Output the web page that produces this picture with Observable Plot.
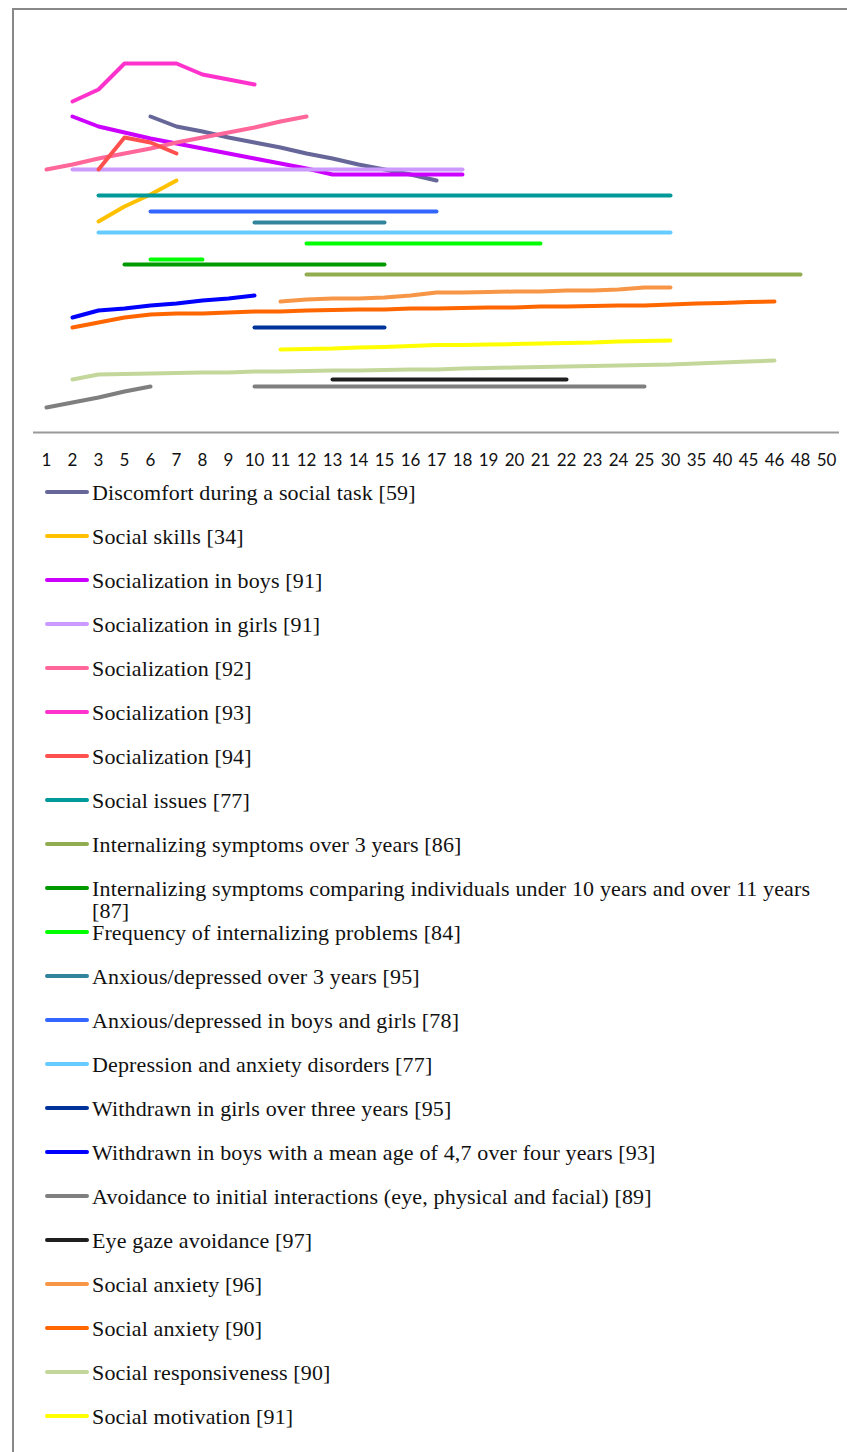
<!DOCTYPE html>
<html>
<head>
<meta charset="utf-8">
<script src="https://cdn.jsdelivr.net/npm/d3@7"></script>
<script src="https://cdn.jsdelivr.net/npm/@observablehq/plot@0.6"></script>
<style>
  html, body { margin: 0; padding: 0; background: #fff; }
  body { width: 847px; height: 1452px; overflow: hidden; position: relative; }
  #frame { position: absolute; left: 12px; top: 8px; width: 900px; height: 1500px;
           border-left: 2px solid #888; border-top: 2px solid #888; box-sizing: border-box; }
  #chart { position: absolute; left: 0; top: 0; }
  .item { position: absolute; left: 45px; height: 0; }
  .sw { position: absolute; left: 0; top: -2px; width: 44px; height: 4px; border-radius: 2px; }
  .lab { position: absolute; left: 47px; top: -10px; font-family: "Liberation Serif", serif;
         font-size: 22px; line-height: 22px; letter-spacing: 0.15px; color: #111;
         white-space: normal; width: 725px; }
</style>
</head>
<body>
<div id="frame"></div>
<div id="chart"></div>
<div id="legend"></div>
<script>
// x categories (age in years)
const categories = ["1","2","3","5","6","7","8","9","10","11","12","13","14","15","16","17","18","19","20","21","22","23","24","25","30","35","40","45","46","48","50"];

const seriesNames = [
  "Discomfort during a social task [59]",
  "Social skills [34]",
  "Socialization in boys [91]",
  "Socialization in girls [91]",
  "Socialization [92]",
  "Socialization [93]",
  "Socialization [94]",
  "Social issues [77]",
  "Internalizing symptoms over 3 years [86]",
  "Internalizing symptoms comparing individuals under 10 years and over 11 years [87]",
  "Frequency of internalizing problems [84]",
  "Anxious/depressed over 3 years [95]",
  "Anxious/depressed in boys and girls [78]",
  "Depression and anxiety disorders [77]",
  "Withdrawn in girls over three years [95]",
  "Withdrawn in boys with a mean age of 4,7 over four years [93]",
  "Avoidance to initial interactions (eye, physical and facial) [89]",
  "Eye gaze avoidance [97]",
  "Social anxiety [96]",
  "Social anxiety [90]",
  "Social responsiveness [90]",
  "Social motivation [91]"
];

const seriesColors = ["#666699","#FFC000","#CC00FF","#CC99FF","#FF6699","#FF33CC","#FF5050","#009999",
  "#92AD50","#009900","#00FF00","#31849B","#3366FF","#66CCFF","#003399","#0000FF",
  "#7F7F7F","#1F1F1F","#F79646","#FF6600","#C4D79B","#FFFF00"];

// values as [category, value]; null = gap
const discomfort = [[6,79],[7,76.5],[8,75.25],[9,73.75],[10,72.5],[11,71.25],[12,69.75],[13,68.5],[14,67],[15,65.75],[16,64.5],[17,63]];
const socialSkills = [[3,52.75],[5,56.5],[6,59.5],[7,63]];
const socializationBoys = [[2,79],[3,76.5],[5,75],[6,73.5],[7,72.25],[8,71],[9,69.75],[10,68.5],[11,67.25],[12,66],[13,64.5],[14,64.5],[15,64.5],[16,64.5],[17,64.5],[18,64.5]];
const socializationGirls = [[2,65.75],[3,65.75],[5,65.75],[6,65.75],[7,65.75],[8,65.75],[9,65.75],[10,65.75],[11,65.75],[12,65.75],[13,65.75],[14,65.75],[15,65.75],[16,65.75],[17,65.75],[18,65.75]];
const socialization92 = [[1,65.75],[2,67],[3,68.5],[5,69.75],[6,71],[7,72.5],[8,73.75],[9,75],[10,76.25],[11,77.75],[12,79]];
const socialization93 = [[2,82.75],[3,85.75],[5,92.25],[6,92.25],[7,92.25],[8,89.5],[9,88.25],[10,87]];
const socialization94 = [[3,65.75],[5,73.75],[6,72.5],[7,69.75]];
const socialIssues = [[3,59.25],[30,59.25]];
const internalizing3y = [[12,39.5],[48,39.5]];
const internalizingCompare = [[5,42],[15,42]];
const internalizingFreq = [[6,43.25],[7,43.25],[8,43.25],[9,null],[12,47.25],[21,47.25]];
const anxDep3y = [[10,52.5],[15,52.5]];
const anxDepBoysGirls = [[6,55.25],[17,55.25]];
const depAnxDisorders = [[3,50],[30,50]];
const withdrawnGirls = [[10,26.25],[15,26.25]];
const withdrawnBoys = [[2,28.75],[3,30.5],[5,31],[6,31.75],[7,32.25],[8,33],[9,33.5],[10,34.25]];
const avoidance = [[1,6.25],[2,7.5],[3,8.75],[5,10.25],[6,11.5],[7,null],[10,11.5],[25,11.5]];
const eyeGaze = [[13,13.25],[22,13.25]];
const socialAnxiety96 = [[11,32.75],[12,33.25],[13,33.5],[14,33.5],[15,33.75],[16,34.25],[17,35],[18,35],[19,35.1],[20,35.25],[21,35.25],[22,35.5],[23,35.5],[24,35.75],[25,36.25],[30,36.25]];
const socialAnxiety90 = [[2,26.25],[3,27.5],[5,28.75],[6,29.5],[7,29.75],[8,29.75],[9,30],[10,30.25],[11,30.25],[12,30.5],[13,30.6],[14,30.75],[15,30.75],[16,31],[17,31],[18,31.1],[19,31.25],[20,31.25],[21,31.5],[22,31.5],[23,31.6],[24,31.75],[25,31.75],[30,32],[35,32.25],[40,32.4],[45,32.6],[46,32.75]];
const socialResponsiveness = [[2,13.25],[3,14.5],[5,14.6],[6,14.75],[7,14.9],[8,15],[9,15],[10,15.25],[11,15.25],[12,15.4],[13,15.5],[14,15.5],[15,15.6],[16,15.75],[17,15.75],[18,16],[19,16.1],[20,16.25],[21,16.4],[22,16.5],[23,16.6],[24,16.75],[25,16.9],[30,17],[35,17.25],[40,17.5],[45,17.75],[46,18]];
const socialMotivation = [[11,20.75],[12,20.9],[13,21],[14,21.25],[15,21.4],[16,21.6],[17,21.9],[18,21.9],[19,22],[20,22.1],[21,22.25],[22,22.4],[23,22.5],[24,22.75],[25,22.9],[30,23]];

const seriesValues = [discomfort, socialSkills, socializationBoys, socializationGirls, socialization92,
  socialization93, socialization94, socialIssues, internalizing3y, internalizingCompare, internalizingFreq,
  anxDep3y, anxDepBoysGirls, depAnxDisorders, withdrawnGirls, withdrawnBoys, avoidance, eyeGaze,
  socialAnxiety96, socialAnxiety90, socialResponsiveness, socialMotivation];

const rows = [];
seriesValues.forEach((vals, i) => {
  vals.forEach(([c, v]) => rows.push({series: seriesNames[i], x: String(c), y: v}));
});

const chart = Plot.plot({
  width: 847,
  height: 480,
  marginLeft: 33,
  marginRight: 8,
  marginTop: 32,
  marginBottom: 48,
  style: {background: "transparent", fontFamily: "Lato, sans-serif", fontSize: "17px", color: "#111"},
  x: {type: "point", domain: categories, padding: 0.5, label: null},
  y: {domain: [0, 100], axis: null},
  color: {domain: seriesNames, range: seriesColors},
  marks: [
    Plot.ruleY([0], {stroke: "#999", strokeWidth: 2}),
    Plot.axisX({tickSize: 0, tickPadding: 21, fontSize: 17, label: null}),
    Plot.line(rows, {x: "x", y: "y", z: "series", stroke: "series", strokeWidth: 4,
      strokeLinecap: "round", strokeLinejoin: "round"})
  ]
});
document.getElementById("chart").appendChild(chart);

const legend = document.getElementById("legend");
seriesNames.forEach((name, i) => {
  const item = document.createElement("div");
  item.className = "item";
  item.style.top = (492 + 44 * i) + "px";
  const sw = document.createElement("div");
  sw.className = "sw";
  sw.style.background = seriesColors[i];
  const lab = document.createElement("div");
  lab.className = "lab";
  lab.textContent = name;
  item.appendChild(sw);
  item.appendChild(lab);
  legend.appendChild(item);
});
</script>
</body>
</html>
